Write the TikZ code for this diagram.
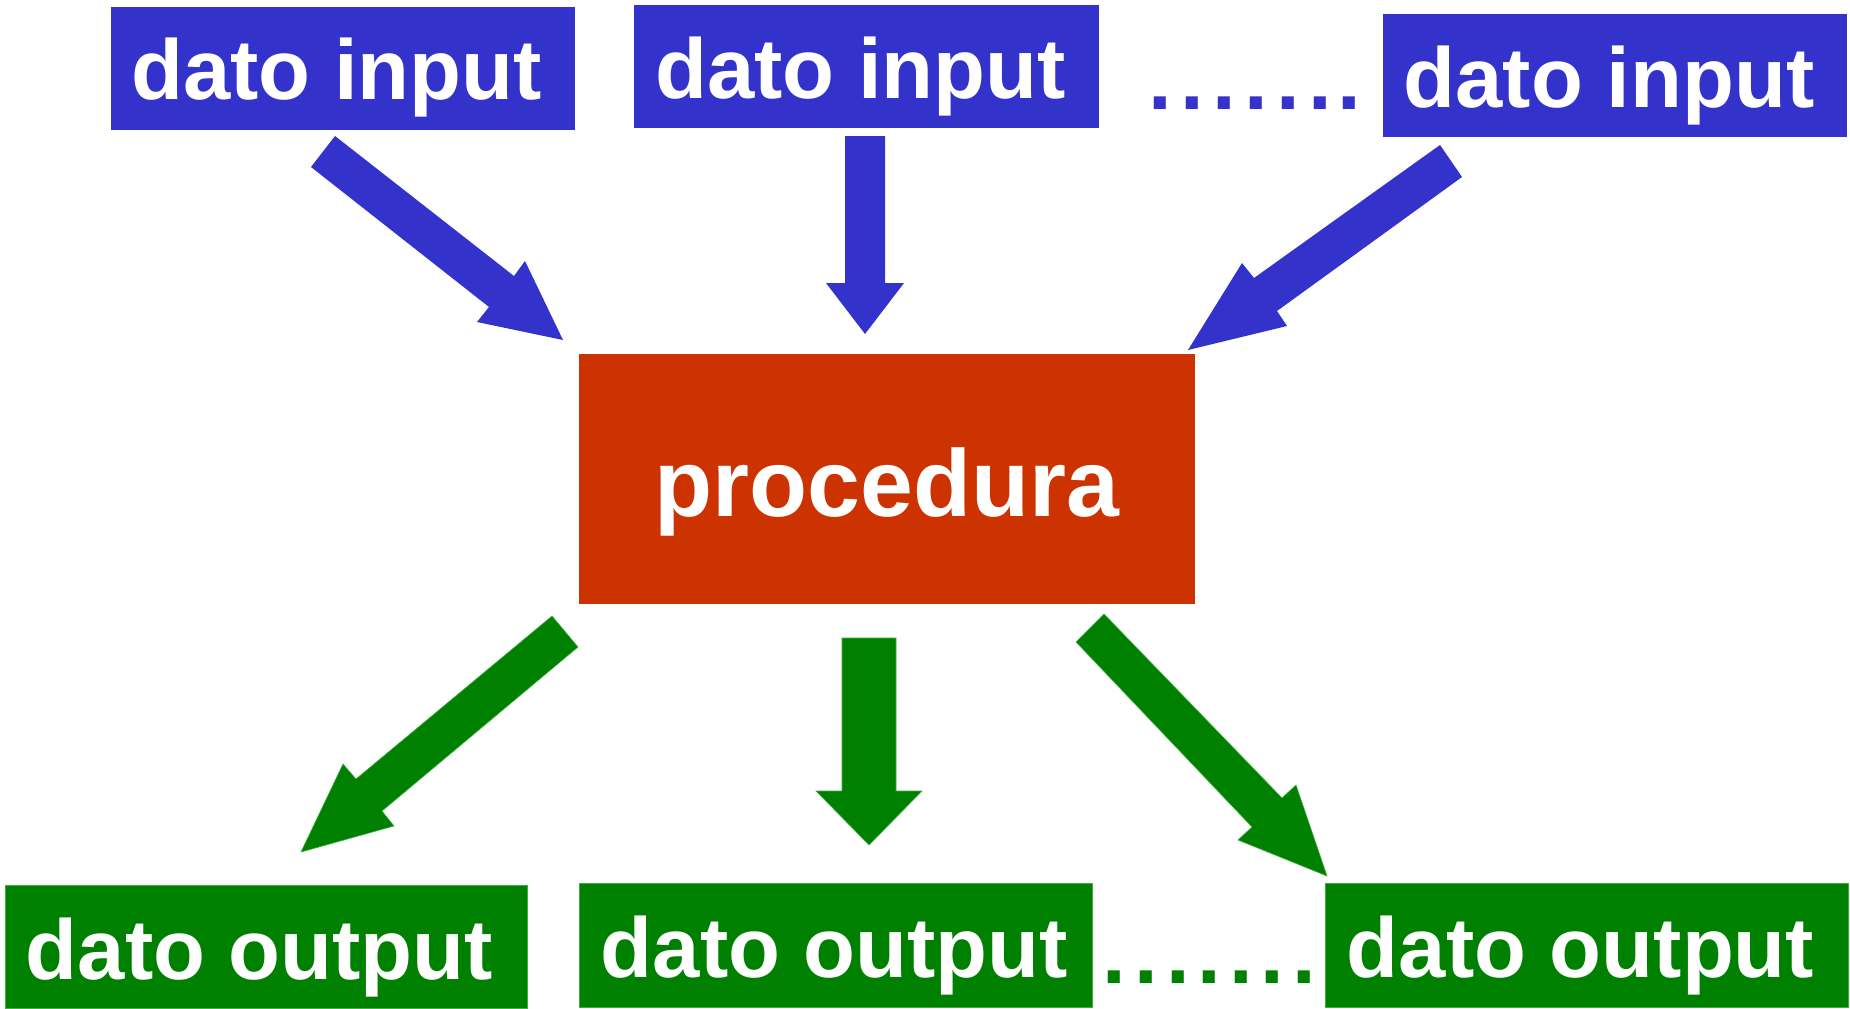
\documentclass[tikz,border=0pt]{standalone}
\usepackage{fontspec}
\setmainfont{Liberation Sans}
\definecolor{inblue}{HTML}{3333CC}
\definecolor{procred}{HTML}{CC3300}
\definecolor{outgreen}{HTML}{008000}
\definecolor{outedge}{HTML}{3FAF3F}
\begin{document}
\begin{tikzpicture}[x=1pt,y=-1pt,
  inbox/.style={rectangle, fill=inblue, draw=none, inner sep=0pt},
  procbox/.style={rectangle, fill=procred, draw=none, inner sep=0pt},
  outbox/.style={rectangle, fill=outgreen, draw=outedge, line width=1pt, inner sep=0pt},
  lbl/.style={inner sep=0pt, text=white, font=\fontsize{85}{100}\selectfont\bfseries, anchor=base},
  biglbl/.style={lbl, font=\fontsize{95}{110}\selectfont\bfseries},
  dots/.style={inner sep=0pt, font=\fontsize{85}{100}\selectfont\bfseries, anchor=base},
  inarrow/.style={fill=inblue, draw=none},
  outarrow/.style={fill=outgreen, draw=outedge, line width=0.6pt, line join=miter}
]
\useasboundingbox (0,0) rectangle (1850,1009);
\fill[white] (0,0) rectangle (1850,1009);

% input boxes
\node[inbox, minimum width=464pt, minimum height=123pt] (in1) at (343,68.5) {};
\node[inbox, minimum width=465pt, minimum height=123pt] (in2) at (866.5,66.5) {};
\node[inbox, minimum width=464pt, minimum height=123pt] (in3) at (1615,75.5) {};
\node[lbl] (tin1) at (336.5,99) {dato input};
\node[lbl] (tin2) at (860.5,98) {dato input};
\node[lbl] (tin3) at (1609,107) {dato input};
\node[dots, text=inblue] (dtop) at (1254.5,109) {.\hspace{8.4pt}.\hspace{8.4pt}.\hspace{8.4pt}.\hspace{8.4pt}.\hspace{8.4pt}.\hspace{5pt}.};

% procedure box
\node[procbox, minimum width=616pt, minimum height=250pt] (proc) at (887,479) {};
\node[biglbl] (tproc) at (887,516) {procedura};

% output boxes
\node[outbox, minimum width=522pt, minimum height=123pt] (out1) at (266,946.5) {};
\node[outbox, minimum width=513pt, minimum height=124pt] (out2) at (835.5,945) {};
\node[outbox, minimum width=523pt, minimum height=124pt] (out3) at (1586.5,945) {};
\node[lbl] (tout1) at (259.5,979) {dato output};
\node[lbl] (tout2) at (834.5,977) {dato output};
\node[lbl] (tout3) at (1580.5,977) {dato output};
\node[dots, text=outgreen] (dbot) at (1209.5,983) {.\hspace{8pt}.\hspace{8pt}.\hspace{8pt}.\hspace{8pt}.\hspace{8pt}.\hspace{8pt}.};

% input block arrows
\path[inarrow] (335,136) -- (311,167) -- (489,307) -- (477,322) -- (563,340) -- (525,261) -- (514,276) -- cycle;
\path[inarrow] (845,136) -- (885,136) -- (885,283) -- (904,283) -- (865,334) -- (826,283) -- (845,283) -- cycle;
\path[inarrow] (1440,145) -- (1462,177) -- (1277,311) -- (1287,326) -- (1188,350) -- (1242,263) -- (1254,278) -- cycle;

% output block arrows
\path[outarrow] (552,616) -- (578,647) -- (382,811) -- (394,826) -- (301,852) -- (343,764) -- (356,779) -- cycle;
\path[outarrow] (842,638) -- (896,638) -- (896,791) -- (922,791) -- (869,845) -- (816,791) -- (842,791) -- cycle;
\path[outarrow] (1104,614) -- (1076,642) -- (1252,827) -- (1238,840) -- (1327,876) -- (1296,785) -- (1282,798) -- cycle;
\end{tikzpicture}
\end{document}
